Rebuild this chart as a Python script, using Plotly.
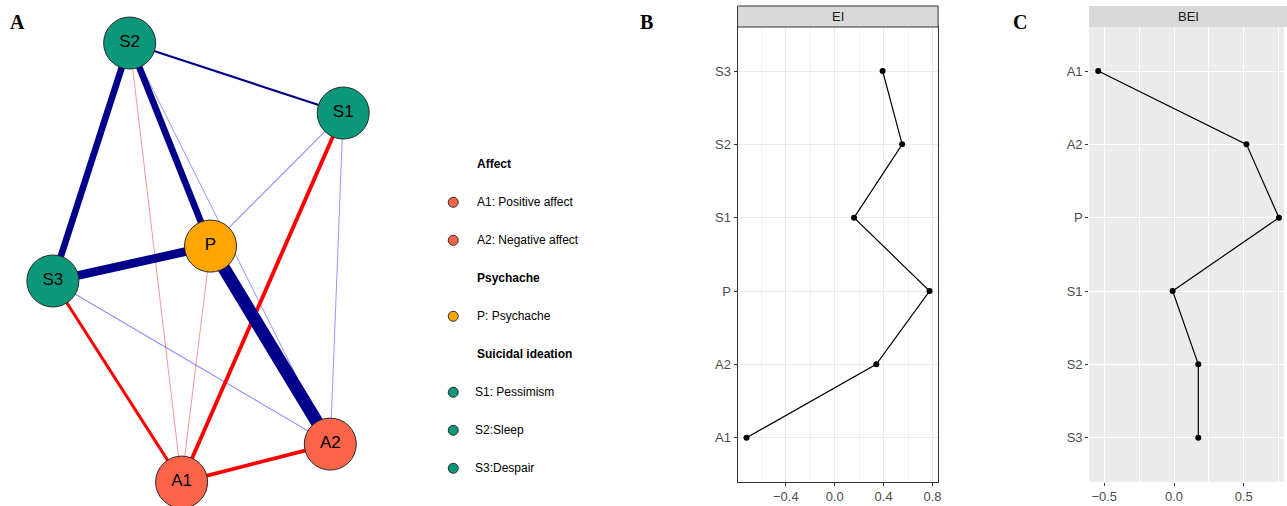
import plotly.graph_objects as go

W, H = 1287, 506

# ---------------- data ----------------
nodes = ["A1", "A2", "P", "S1", "S2", "S3"]
groups = ["Affect", "Affect", "Psychache", "Suicidal ideation", "Suicidal ideation", "Suicidal ideation"]
# network layout (normalised layout coordinates)
layout_x = [-0.113, 0.911, 0.086, 1.0, -0.471, -1.0]
layout_y = [-1.0, -0.827, 0.075, 0.681, 1.0, -0.084]

edge_from = ["P", "P", "S2", "S2", "S1", "A1", "S3", "S2", "S1", "S3", "S2", "S1", "S2", "P"]
edge_to = ["A2", "S3", "P", "S3", "A1", "A2", "A1", "S1", "P", "A2", "A2", "A2", "A1", "A1"]
edge_weight = [0.43, 0.29, 0.22, 0.22, -0.13, -0.125, -0.10, 0.07, 0.035, 0.035, 0.025, 0.025, -0.022, -0.022]

legend_rows = ["Affect", "A1: Positive affect", "A2: Negative affect", "Psychache", "P: Psychache",
               "Suicidal ideation", "S1: Pessimism", "S2:Sleep", "S3:Despair"]
legend_row_group = [None, "Affect", "Affect", None, "Psychache", None,
                    "Suicidal ideation", "Suicidal ideation", "Suicidal ideation"]

ei_values = [-0.722, 0.340, 0.776, 0.158, 0.552, 0.392]
bei_values = [-0.543, 0.519, 0.752, -0.010, 0.174, 0.174]

ei_ticks = [-0.4, 0.0, 0.4, 0.8]
bei_ticks = [-0.5, 0.0, 0.5]

group_colors = {"Affect": "#FB6448", "Psychache": "#FFA500", "Suicidal ideation": "#0B977A"}

FONT = "Liberation Sans, Arial, sans-serif"
SERIF = "Liberation Serif, Times New Roman, serif"

fig = go.Figure()

# ---------------- panel A: network ----------------
pos = {n: (x, y) for n, x, y in zip(nodes, layout_x, layout_y)}
cut = 0.05
order = sorted(range(len(edge_weight)), key=lambda i: abs(edge_weight[i]))
for i in order:
    w = edge_weight[i]
    a, b = pos[edge_from[i]], pos[edge_to[i]]
    aw = abs(w)
    if w > 0:
        col = "#00008B" if aw >= cut else "rgba(60,60,255,0.6)"
    else:
        col = "#FF0000" if aw >= cut else "rgba(255,40,40,0.55)"
    width = max(aw * 30, 0.9)
    fig.add_trace(go.Scatter(x=[a[0], b[0]], y=[a[1], b[1]], mode="lines",
                             line=dict(color=col, width=width),
                             xaxis="x", yaxis="y", hoverinfo="skip", showlegend=False))

fig.add_trace(go.Scatter(
    x=layout_x, y=layout_y, mode="markers+text", text=nodes,
    textposition="middle center",
    textfont=dict(family=FONT, size=17, color="black"),
    marker=dict(size=52, color=[group_colors[g] for g in groups],
                line=dict(color="#2a2a2a", width=1)),
    xaxis="x", yaxis="y", showlegend=False, cliponaxis=False))

# ---------------- legend ----------------
leg_rows = list(range(len(legend_rows)))
mk_rows = [r for r, g in zip(leg_rows, legend_row_group) if g is not None]
fig.add_trace(go.Scatter(
    x=[0.0715] * len(mk_rows), y=mk_rows, mode="markers",
    marker=dict(size=10, color=[group_colors[legend_row_group[r]] for r in mk_rows],
                line=dict(color="#2a2a2a", width=1)),
    xaxis="x2", yaxis="y2", showlegend=False, hoverinfo="skip"))

annotations = []
for r, (txt, g) in enumerate(zip(legend_rows, legend_row_group)):
    annotations.append(dict(
        x=0.18 if g is None or not txt.startswith("S") else 0.172, y=r, xref="x2", yref="y2",
        text=f"<b>{txt}</b>" if g is None else txt, showarrow=False, xanchor="left", yanchor="middle",
        font=dict(family=FONT, size=12, color="black")))

# ---------------- panel B: EI ----------------
fig.add_trace(go.Scatter(
    x=ei_values, y=nodes, mode="lines+markers",
    line=dict(color="black", width=1.2), marker=dict(color="black", size=6),
    xaxis="x3", yaxis="y3", showlegend=False))

# ---------------- panel C: BEI ----------------
fig.add_trace(go.Scatter(
    x=bei_values, y=nodes, mode="lines+markers",
    line=dict(color="black", width=1.2), marker=dict(color="black", size=6),
    xaxis="x4", yaxis="y4", showlegend=False))

px = lambda v: v / W
py = lambda v: 1 - v / H

b_left, b_right = px(739.3), px(940.3)
c_left = px(1091.7)
p_bot, p_top = py(481.7), py(27.0)
s_top = py(6.0)

tickfont = dict(family=FONT, size=13, color="#4D4D4D")

shapes = [
    # panel C background
    dict(type="rect", xref="x4 domain", yref="y4 domain", x0=0, x1=1, y0=0, y1=1,
         fillcolor="#EBEBEB", line=dict(width=0), layer="below"),
    # strip B
    dict(type="rect", xref="paper", yref="paper", x0=b_left, x1=b_right, y0=p_top, y1=s_top,
         fillcolor="#D9D9D9", line=dict(color="#333333", width=1)),
    # strip C
    dict(type="rect", xref="paper", yref="paper", x0=c_left, x1=1.01, y0=p_top, y1=s_top,
         fillcolor="#D9D9D9", line=dict(width=0)),
]

def lab(x, y, text, font):
    return dict(x=x, y=y, xref="paper", yref="paper", text=text, showarrow=False,
                xanchor="center", yanchor="middle", font=font)

annotations += [
    lab((b_left + b_right) / 2, py(16.5), "EI", dict(family=FONT, size=13, color="#1A1A1A")),
    lab(px(1191.3), py(16.5), "BEI", dict(family=FONT, size=13, color="#1A1A1A")),
    lab(px(18), py(22), "<b>A</b>", dict(family=SERIF, size=20, color="black")),
    lab(px(648), py(22), "<b>B</b>", dict(family=SERIF, size=20, color="black")),
    lab(px(1022), py(22), "<b>C</b>", dict(family=SERIF, size=20, color="black")),
]

fig.update_layout(
    width=W, height=H, margin=dict(l=0, r=0, t=0, b=0),
    paper_bgcolor="white", plot_bgcolor="rgba(0,0,0,0)",
    showlegend=False, shapes=shapes, annotations=annotations,
    xaxis=dict(domain=[0, px(420)], range=[-1.364, 1.522], visible=False, fixedrange=True, anchor="y"),
    yaxis=dict(domain=[0, 1], range=[-1.109, 1.196], visible=False, fixedrange=True, anchor="x"),
    xaxis2=dict(domain=[px(440), px(640)], range=[0, 1], visible=False, anchor="y2"),
    yaxis2=dict(domain=[py(487.3), py(145.3)], range=[8.5, -0.5], visible=False, anchor="x2"),
    xaxis3=dict(domain=[b_left, b_right], range=[-0.795, 0.846], tickvals=ei_ticks, anchor="y3",
                ticktext=["\u22120.4", "0.0", "0.4", "0.8"],
                showgrid=True, gridcolor="#EBEBEB", gridwidth=1, zeroline=False,
                minor=dict(dtick=0.2, tick0=0, showgrid=True, gridcolor="#F2F2F2", gridwidth=0.6),
                ticks="outside", ticklen=3, tickcolor="#333333", tickfont=tickfont,
                showline=True, mirror=True, linecolor="#333333", linewidth=1),
    yaxis3=dict(domain=[p_bot, p_top], type="category", categoryorder="array", categoryarray=nodes,
                anchor="x3",
                range=[-0.6, 5.6], showgrid=True, gridcolor="#EBEBEB", gridwidth=1, zeroline=False,
                ticks="outside", ticklen=3, tickcolor="#333333", tickfont=tickfont,
                showline=True, mirror=True, linecolor="#333333", linewidth=1),
    xaxis4=dict(domain=[c_left, 1.0], range=[-0.608, 0.788], tickvals=bei_ticks, anchor="y4",
                ticktext=["\u22120.5", "0.0", "0.5"],
                showgrid=True, gridcolor="white", gridwidth=1.1, zeroline=False,
                minor=dict(dtick=0.25, tick0=0, showgrid=True, gridcolor="white", gridwidth=0.55),
                ticks="outside", ticklen=3, tickcolor="#333333", tickfont=tickfont, showline=False),
    yaxis4=dict(domain=[p_bot, p_top], type="category", categoryorder="array", anchor="x4",
                categoryarray=nodes[::-1], range=[-0.6, 5.6],
                showgrid=True, gridcolor="white", gridwidth=1.1, zeroline=False,
                ticks="outside", ticklen=3, tickcolor="#333333", tickfont=tickfont, showline=False),
)

fig.write_html("out.html", config={"displayModeBar": False},
               post_script="document.body.style.margin='0';document.body.style.overflow='hidden';")
